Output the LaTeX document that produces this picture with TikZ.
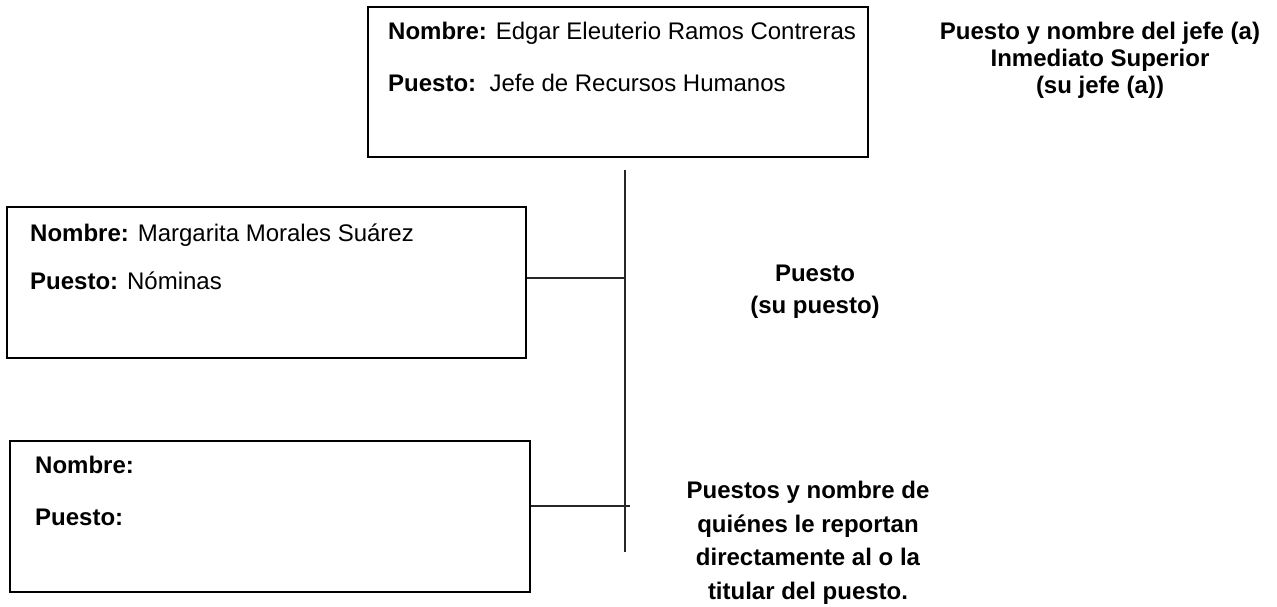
\documentclass[tikz,border=0pt]{standalone}
\usepackage{fontspec}
\setmainfont{Liberation Sans}
\begin{document}
\begin{tikzpicture}[x=1pt,y=-1pt,
  box/.style={draw=black,line width=1.3pt,rectangle,inner sep=0pt},
  conn/.style={draw=black!85,line width=1.4pt},
  lbl/.style={anchor=base west,inner sep=0pt,font=\fontsize{24}{28}\selectfont},
  side/.style={anchor=north,inner sep=0pt,align=center,font=\fontsize{24}{#1}\selectfont\bfseries}]
\useasboundingbox (0,0) rectangle (1277,607);
% boxes
\node[box,minimum width=500pt,minimum height=150pt] (jefe) at (618,82) {};
\node[box,minimum width=519pt,minimum height=151pt] (mid) at (266.5,282.5) {};
\node[box,minimum width=520pt,minimum height=151pt] (low) at (270,516.5) {};
% texts in boxes
\node[lbl] (jn) at (388,40) {\textbf{Nombre:} Edgar Eleuterio Ramos Contreras};
\node[lbl] (jp) at (388,92) {\textbf{Puesto:}\ \ Jefe de Recursos Humanos};
\node[lbl] (mn) at (30,241) {\textbf{Nombre:} Margarita Morales Suárez};
\node[lbl] (mp) at (30,289) {\textbf{Puesto:} Nóminas};
\node[lbl] (ln) at (35,473) {\textbf{Nombre:}};
\node[lbl] (lp) at (35,525) {\textbf{Puesto:}};
% side labels
\node[side=27] (s1) at (1100,22) {Puesto y nombre del jefe (a)\\Inmediato Superior\\(su jefe (a))};
\node[side=32] (s2) at (815,265) {Puesto\\(su puesto)};
\node[side=33.5] (s3) at (808,481) {Puestos y nombre de\\quiénes le reportan\\directamente al o la\\titular del puesto.};
% connectors
\coordinate (vtop) at (625,170);
\coordinate (vbot) at (625,552);
\coordinate (j1) at (625,278);
\coordinate (j2) at (630,506);
\draw[conn] (vtop) -- (vbot);
\draw[conn] (j1 -| mid.east) -- (j1);
\draw[conn] (j2 -| low.east) -- (j2);
\end{tikzpicture}
\end{document}
